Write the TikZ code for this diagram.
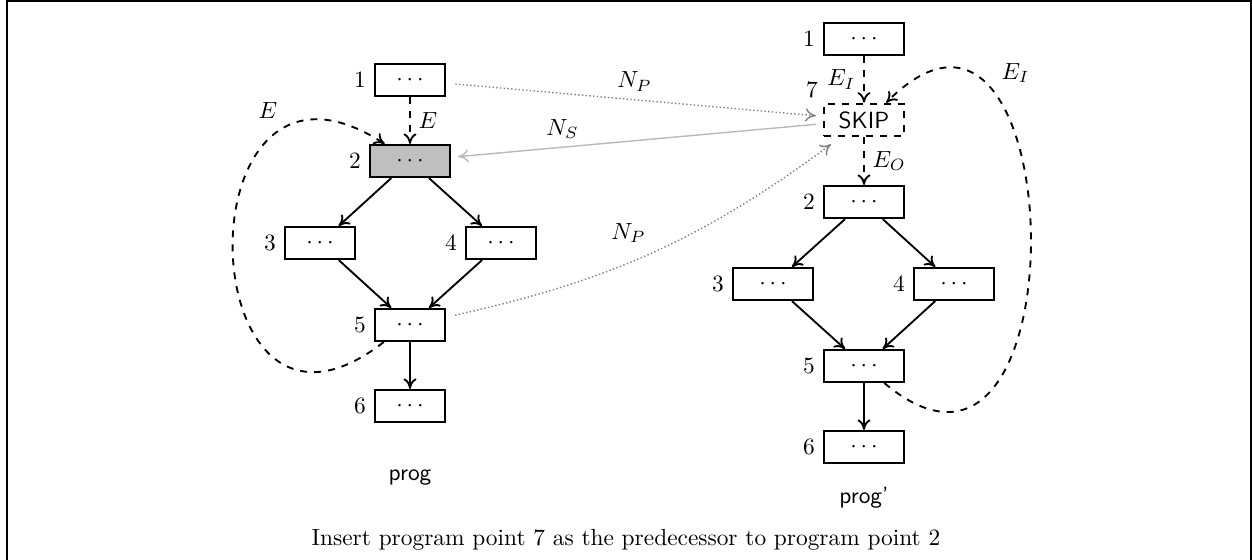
\documentclass[tikz,border=0pt]{standalone}
\usetikzlibrary{arrows.meta}
\tikzset{
  pp/.style={draw, thick, minimum width=30pt, minimum height=13.8pt},
  ppw/.style={pp, minimum width=34.3pt},
  flow/.style={->, thick},
  dflow/.style={->, thick, dashed},
  np/.style={->, gray, densely dotted, line width=0.6pt, shorten <=4pt, shorten >=3pt},
  ns/.style={->, gray!55, semithick, shorten <=3pt, shorten >=3pt}
}
\begin{document}
\begin{tikzpicture}[x=0.428pt, y=0.428pt, >={Computer Modern Rightarrow[length=4.5pt, width=5.6pt]}]
\useasboundingbox (0,0) rectangle (1252,-560);
\draw[line width=1pt](7,-565)--(7,-1)--(1251,-1)--(1251,-565);
\node[pp, label=left:1] (a1) at (410,-80) {$\cdots$};
\node[ppw, fill=gray!50, label=left:2] (a2) at (410,-161) {$\cdots$};
\node[pp, label=left:3] (a3) at (320,-243) {$\cdots$};
\node[pp, label=left:4] (a4) at (501,-243) {$\cdots$};
\node[pp, label=left:5] (a5) at (410,-325) {$\cdots$};
\node[pp, label=left:6] (a6) at (410,-406) {$\cdots$};
\node[ppw, label=left:1] (b1) at (864,-39) {$\cdots$};
\node[ppw, dashed] (s7) at (864,-120) {\sffamily SKIP};
\node[above left, inner sep=2pt] (l7) at (s7.north west) {7};
\node[ppw, label=left:2] (b2) at (864,-202) {$\cdots$};
\node[ppw, label=left:3] (b3) at (773,-284) {$\cdots$};
\node[ppw, label=left:4] (b4) at (954,-284) {$\cdots$};
\node[ppw, label=left:5] (b5) at (864,-366) {$\cdots$};
\node[ppw, label=left:6] (b6) at (864,-447) {$\cdots$};
\draw[dflow](a1)--node[right]{$E$}(a2);
\draw[flow](a2)--(a3);
\draw[flow](a2)--(a4);
\draw[flow](a3)--(a5);
\draw[flow](a4)--(a5);
\draw[flow](a5)--(a6);
\draw[dflow](a5.213) to[out=218, in=147, looseness=3.2] node[pos=0.8, above left]{$E$} (a2.146);
\draw[dflow](b1)--node[left]{$E_I$}(s7);
\draw[dflow](s7)--node[right]{$E_O$}(b2);
\draw[flow](b2)--(b3);
\draw[flow](b2)--(b4);
\draw[flow](b3)--(b5);
\draw[flow](b4)--(b5);
\draw[flow](b5)--(b6);
\draw[dflow](b5.320) to[out=-40, in=45, looseness=2.4] node[pos=0.75, above right]{$E_I$} (s7.38);
\draw[np](a1)--node[above, text=black]{$N_P$}(s7);
\draw[ns](s7)--node[above, pos=0.7, text=black]{$N_S$}(a2);
\draw[np, shorten >=5pt](a5) to[bend right=12] node[above left, text=black]{$N_P$} (s7);
\node[font=\sffamily] (progl) at (410,-478) {prog};
\node[font=\sffamily] (progr) at (864,-498) {prog'};
\node (cap) at (626,-540) {Insert program point 7 as the predecessor to program point 2};
\end{tikzpicture}
\end{document}
